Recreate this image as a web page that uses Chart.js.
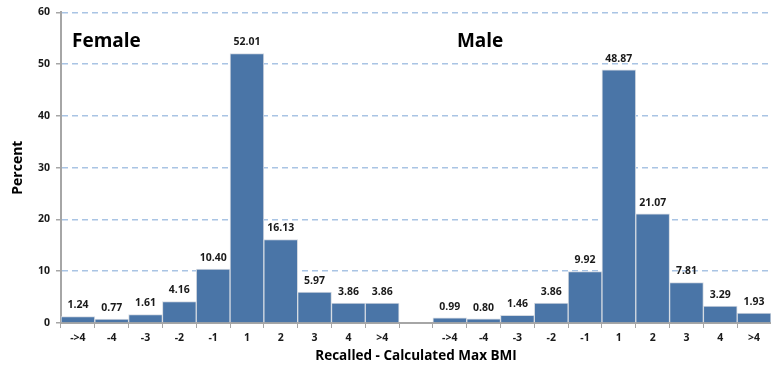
<!DOCTYPE html>
<html>
<head>
<meta charset="utf-8">
<script src="https://cdn.jsdelivr.net/npm/chart.js@4/dist/chart.umd.min.js"></script>
<style>
html,body{margin:0;padding:0;background:#fff;}
#wrap{width:771px;height:380px;position:relative;}
</style>
</head>
<body>
<div id="wrap"><canvas id="c" width="771" height="380"></canvas></div>
<script>
const categoryLabels = ["->4","-4","-3","-2","-1","1","2","3","4",">4"];
const femaleValues = [1.24,0.77,1.61,4.16,10.40,52.01,16.13,5.97,3.86,3.86];
const maleValues = [0.99,0.80,1.46,3.86,9.92,48.87,21.07,7.81,3.29,1.93];
const groupNames = ["Female","Male"];
const yTicks = [0,10,20,30,40,50,60];

const labels = [...categoryLabels, "", ...categoryLabels];
const values = [...femaleValues, null, ...maleValues];

const FONT = "'Open Sans', 'Liberation Sans', sans-serif";

const valueLabels = {
  id: 'valueLabels',
  afterDatasetsDraw(chart) {
    const ctx = chart.ctx;
    const meta = chart.getDatasetMeta(0);
    ctx.save();
    ctx.font = "bold 10.5px " + FONT;
    ctx.fillStyle = "#1a1a1a";
    ctx.textAlign = "center";
    ctx.textBaseline = "bottom";
    meta.data.forEach((el, i) => {
      const v = values[i];
      if (v === null) return;
      ctx.fillText(v.toFixed(2), el.x, el.y - 6);
    });
    const xs = chart.scales.x, ys = chart.scales.y;
    const half = (xs.getPixelForValue(1) - xs.getPixelForValue(0)) / 2;
    ctx.font = "bold 19px " + FONT;
    ctx.textAlign = "left";
    ctx.textBaseline = "middle";
    ctx.fillStyle = "#000";
    ctx.fillText(groupNames[0], xs.getPixelForValue(0) - half + 11, ys.getPixelForValue(54.3));
    ctx.fillText(groupNames[1], xs.getPixelForValue(11) - half + 24, ys.getPixelForValue(54.3));
    ctx.restore();
  }
};

new Chart(document.getElementById('c'), {
  type: 'bar',
  data: {
    labels: labels,
    datasets: [{
      data: values,
      backgroundColor: '#4a75a7',
      borderColor: '#d4dae2',
      borderWidth: 1,
      barPercentage: 1,
      categoryPercentage: 1
    }]
  },
  options: {
    responsive: false,
    animation: false,
    events: [],
    layout: { padding: { left: 10, right: 0, top: 12, bottom: 16 } },
    plugins: { legend: { display: false }, tooltip: { enabled: false } },
    scales: {
      x: {
        offset: true,
        grid: { display: true, offset: true, drawOnChartArea: false, tickLength: 5, tickColor: '#a6a6a6', color: '#a6a6a6' },
        border: { display: true, color: '#a6a6a6', width: 2 },
        ticks: { font: { family: FONT, size: 10.5, weight: 'bold' }, color: '#1a1a1a', padding: 4, maxRotation: 0, autoSkip: false },
        title: { display: true, text: 'Recalled - Calculated Max BMI', font: { family: FONT, size: 13.5, weight: 'bold' }, color: '#000', padding: { top: 4, bottom: 0 } },
        afterFit(s) { s.height = 41; }
      },
      y: {
        min: 0, max: 60,
        afterBuildTicks(s) { s.ticks = yTicks.map(v => ({ value: v })); },
        grid: { color: '#a9c4e4', lineWidth: 1.5, tickLength: 5, tickColor: '#a6a6a6', tickBorderDash: [] },
        border: { display: true, color: '#a6a6a6', width: 2, dash: [6, 4] },
        ticks: { font: { family: FONT, size: 10.5, weight: 'bold' }, color: '#1a1a1a', padding: 6 },
        title: { display: true, text: 'Percent', font: { family: FONT, size: 14, weight: 'bold' }, color: '#000', padding: { top: 0, bottom: 8 } },
        afterFit(s) { s.width = 51; }
      }
    }
  },
  plugins: [valueLabels]
});
</script>
</body>
</html>
